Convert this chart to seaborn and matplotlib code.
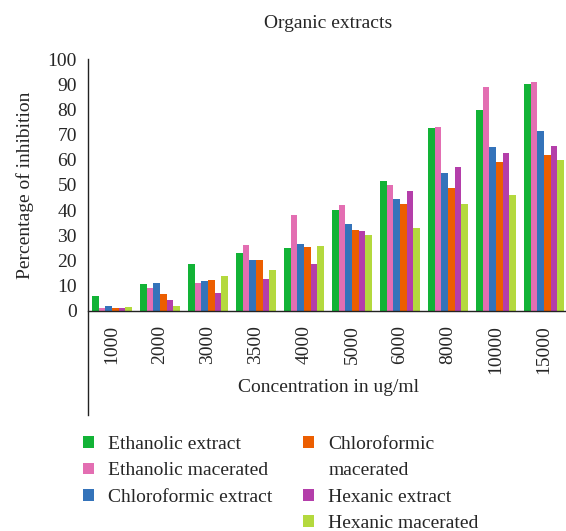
import numpy as np
import pandas as pd
import matplotlib
matplotlib.use('Agg')
import matplotlib.pyplot as plt
from matplotlib.patches import Patch
import seaborn as sns

concentrations = ['1000', '2000', '3000', '3500', '4000', '5000', '6000', '8000', '10000', '15000']
series_names = ['Ethanolic extract', 'Ethanolic macerated', 'Chloroformic extract',
                'Chloroformic macerated', 'Hexanic extract', 'Hexanic macerated']

ethanolic_extract = [6.0, 10.5, 18.5, 23.0, 24.8, 40.0, 51.5, 72.6, 79.9, 90.1]
ethanolic_macerated = [1.3, 9.0, 11.0, 26.0, 38.0, 41.9, 50.1, 73.2, 88.9, 90.9]
chloroformic_extract = [1.9, 10.9, 11.7, 20.4, 26.4, 34.7, 44.4, 54.6, 64.9, 71.4]
chloroformic_macerated = [1.2, 6.6, 12.2, 20.4, 25.2, 32.3, 42.6, 48.9, 59.1, 61.7]
hexanic_extract = [1.3, 4.5, 7.0, 12.5, 18.8, 31.7, 47.8, 57.1, 62.6, 65.4]
hexanic_macerated = [1.6, 2.0, 14.0, 16.3, 25.7, 30.2, 33.0, 42.5, 46.2, 59.9]

colors = ['#12b336', '#e36eb2', '#3473ba', '#ec5e00', '#b43eaa', '#b4d93e']

all_values = [ethanolic_extract, ethanolic_macerated, chloroformic_extract,
              chloroformic_macerated, hexanic_extract, hexanic_macerated]
rows = []
for name, vals in zip(series_names, all_values):
    for c, v in zip(concentrations, vals):
        rows.append({'Concentration': c, 'Extract': name, 'Inhibition': v})
df = pd.DataFrame(rows)

sns.set_style('white')
plt.rcParams['font.family'] = ['Liberation Serif', 'DejaVu Serif']
FS = 14

fig = plt.figure(figsize=(5.66, 5.31), dpi=100)
W, H = 566, 531
left, right, top, bottom = 88, 568, 59, 415
ax = fig.add_axes([left / W, 1 - bottom / H, (right - left) / W, (bottom - top) / H])

sns.barplot(data=df, x='Concentration', y='Inhibition', hue='Extract',
            palette=colors, width=0.84, gap=0, saturation=1, linewidth=0,
            edgecolor='none', ax=ax, legend=True)

ax.set_xlim(-0.5, 9.5)
ax.set_ylim(-41.3, 100)
ax.set_yticks(np.arange(0, 101, 10))
ax.spines['right'].set_visible(False)
ax.spines['top'].set_visible(False)
ax.spines['bottom'].set_position(('data', 0))
for s in ['left', 'bottom']:
    ax.spines[s].set_color('#222222')
    ax.spines[s].set_linewidth(1.0)
ax.tick_params(axis='y', direction='out', length=6, width=1, labelsize=FS, color='#222222', pad=2)
ax.tick_params(axis='x', direction='out', length=6, width=1, labelsize=FS, color='#222222',
               rotation=90, pad=4)
ax.set_ylabel('Percentage of inhibition', fontsize=FS)
ax.yaxis.set_label_coords(-0.112, (bottom - 185) / (bottom - top))
ax.set_xlabel('')
ax.text(0.5, (bottom - 387) / (bottom - top), 'Concentration in ug/ml', transform=ax.transAxes,
        ha='center', va='center', fontsize=FS)
ax.set_title('Organic extracts', fontsize=FS, pad=22)

handles, labels = ax.get_legend_handles_labels()
ax.get_legend().remove()
blank = Patch(facecolor='none', edgecolor='none')

leg_kw = dict(loc='upper left', frameon=False, fontsize=FS, handlelength=0.55,
              handleheight=0.55, handletextpad=0.75, labelspacing=0.48,
              borderpad=0, borderaxespad=0)
fig.legend(handles[:3], labels[:3], bbox_to_anchor=(83 / W, 1 - 436 / H), **leg_kw)
fig.legend([handles[3], blank, handles[4], handles[5]],
           ['Chloroformic', 'macerated', labels[4], labels[5]],
           bbox_to_anchor=(303 / W, 1 - 436 / H), **leg_kw)

fig.savefig('out.png', dpi=100)
